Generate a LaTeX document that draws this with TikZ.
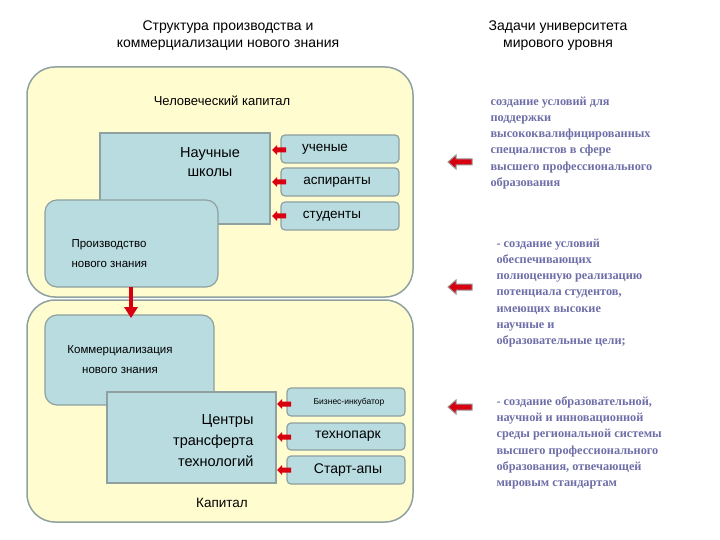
\documentclass[tikz,border=0pt]{standalone}
\usepackage{fontspec}
\setmainfont{Liberation Sans}
\newfontfamily\rs{Liberation Serif}
\definecolor{yel}{HTML}{FFFDD0}
\definecolor{blu}{HTML}{B8DCE0}
\definecolor{edg}{HTML}{8FA0A0}
\definecolor{pur}{HTML}{6E6EA8}
\definecolor{rd}{HTML}{D80010}
\begin{document}
\begin{tikzpicture}[x=1pt,y=-1pt,
 big/.style={draw=edg,line width=1.5pt,fill=yel,rounded corners=28pt},
 blk/.style={draw=edg,line width=1.2pt,fill=blu},
 rblk/.style={blk,rounded corners=12pt},
 sm/.style={blk,rounded corners=4pt},
 bigarr/.pic={\filldraw[fill=rd,draw=gray!80,line width=1pt] (-12,0) -- (-4,-7) -- (-4,-3) -- (12,-3) -- (12,3) -- (-4,3) -- (-4,7) -- cycle;},
 smarr/.pic={\fill[rd] (-7,0) -- (-2,-5) -- (-2,-2.5) -- (7,-2.5) -- (7,2.5) -- (-2,2.5) -- (-2,5) -- cycle;},
 txt/.style={font=\rs\bfseries\fontsize{12.3}{16.3}\selectfont,color=pur,align=left,anchor=north west}]
\useasboundingbox (0,0) rectangle (720,540);
\node[font=\fontsize{14}{17}\selectfont,align=center] (h1) at (228,36) {Структура производства и\\коммерциализации нового знания};
\node[font=\fontsize{14}{17}\selectfont,align=center] (h2) at (558,36) {Задачи университета\\мирового уровня};
\draw[big] (27,67) rectangle (413,297);
\draw[big] (27,300) rectangle (413,522);
\node[font=\fontsize{13}{15}\selectfont] (hc) at (222,101) {Человеческий капитал};
\draw[blk] (100,133) rectangle (270,224);
\node[align=center,font=\fontsize{14.5}{19}\selectfont] (ns) at (210,162) {Научные\\школы};
\draw[sm] (281,135) rectangle (399,163) node[midway,font=\fontsize{13.5}{15}\selectfont,xshift=-15pt] (u) {ученые};
\draw[sm] (281,168) rectangle (399,196) node[midway,font=\fontsize{13.5}{15}\selectfont,xshift=-3pt] (a) {аспиранты};
\draw[sm] (281,202) rectangle (399,230) node[midway,font=\fontsize{13.5}{15}\selectfont,xshift=-8pt] (s) {студенты};
\draw[rblk] (45,200) rectangle (218,287);
\node[align=left,font=\fontsize{11.5}{20}\selectfont,anchor=west] (pr) at (68,254) {Производство\\нового знания};
\draw[rblk] (45,315) rectangle (214,405);
\node[align=center,font=\fontsize{11.5}{20}\selectfont] (kom) at (120,360) {Коммерциализация\\нового знания};
\draw[blk] (107,392) rectangle (276,483);
\node[align=right,font=\fontsize{14.5}{21}\selectfont,anchor=east] (ct) at (257,441) {Центры\\трансферта\\технологий};
\draw[sm] (287,388) rectangle (405,416) node[midway,font=\fontsize{8.5}{10}\selectfont,xshift=3pt] (bi) {Бизнес-инкубатор};
\draw[sm] (287,423) rectangle (405,450) node[midway,font=\fontsize{14}{15}\selectfont,xshift=2pt] (tp) {технопарк};
\draw[sm] (287,456) rectangle (405,484) node[midway,font=\fontsize{14}{15}\selectfont,xshift=2pt] (sa) {Старт-апы};
\node[font=\fontsize{13.5}{15}\selectfont] (kap) at (222,503) {Капитал};
\draw[rd,line width=4pt] (131,287) -- (131,308);
\fill[rd] (124,307) -- (138,307) -- (131,318) -- cycle;
\foreach \y in {150,182,216}{\pic at (279,\y) {smarr};}
\foreach \y in {404,437,470}{\pic at (284,\y) {smarr};}
\foreach \y in {162,287,407}{\pic at (460,\y) {bigarr};}
\node[txt] (t1) at (487,93) {создание условий для\\поддержки\\высококвалифицированных\\специалистов в сфере\\высшего профессионального\\образования};
\node[txt] (t2) at (493,235) {- создание условий\\обеспечивающих\\полноценную реализацию\\потенциала студентов,\\имеющих высокие\\научные и\\образовательные цели;};
\node[txt] (t3) at (493,393) {- создание образовательной,\\научной и инновационной\\среды региональной системы\\высшего профессионального\\образования, отвечающей\\мировым стандартам};
\end{tikzpicture}
\end{document}
